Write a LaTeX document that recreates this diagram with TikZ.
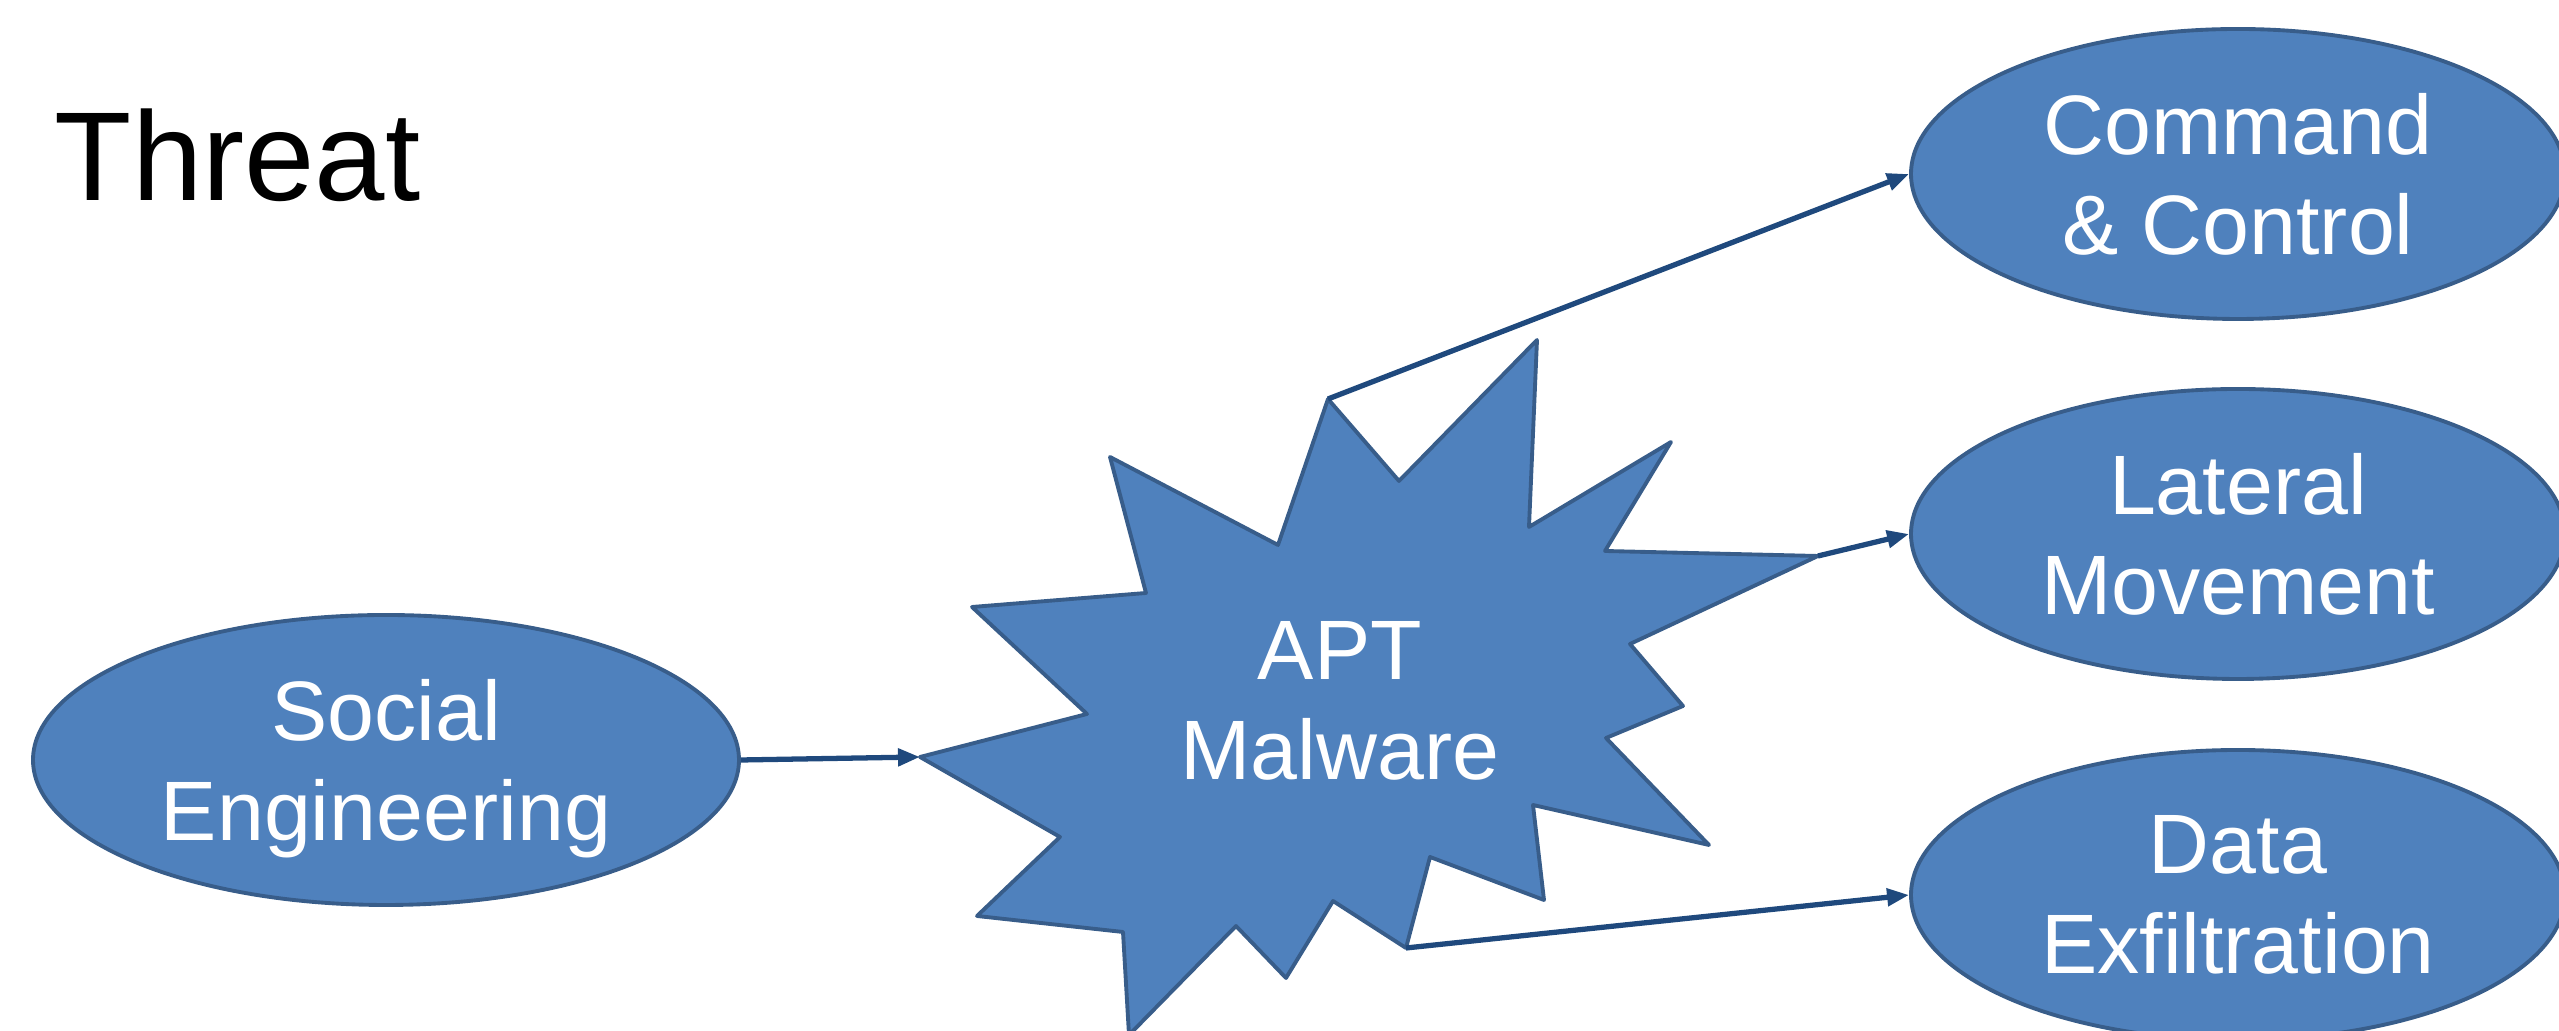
\documentclass[tikz,border=0pt]{standalone}
\usepackage{fontspec}
\setmainfont{Liberation Sans}
\usetikzlibrary{shapes.geometric,arrows.meta}

\definecolor{blobfill}{HTML}{4F81BD}
\definecolor{blobline}{HTML}{385D8A}
\definecolor{linkcol}{HTML}{1F497D}

\begin{document}
\begin{tikzpicture}[
    blob/.style={ellipse, draw=blobline, fill=blobfill, line width=1.1pt,
      inner sep=0pt, minimum height=2.90cm, text=white, align=center,
      font=\fontsize{24}{28.5}\selectfont},
    link/.style={draw=linkcol, line width=1.5pt,
      -{Triangle[length=0.22cm, width=0.17cm]}}
  ]
    \useasboundingbox (0,0) rectangle (25.59,10.31);

    % Title
    \node[anchor=base west, inner sep=0pt, font=\fontsize{36}{43}\selectfont]
      (title) at (0.54,8.30) {Threat};

    % Left and right ellipses
    \node[blob, minimum width=7.06cm] (social) at (3.86,2.71)
      {Social\\\smash{Engineering}};
    \node[blob, minimum width=6.54cm] (cc) at (22.38,8.57)
      {Command\\\& Control};
    \node[blob, minimum width=6.54cm] (lateral) at (22.38,4.97)
      {Lateral\\Movement};
    \node[blob, minimum width=6.54cm] (data) at (22.38,1.36)
      {Data\\Exfiltration};

    % Burst shape
    \draw[blobline, fill=blobfill, line width=1.1pt, line join=round]
      (9.20,2.74) -- (10.87,3.17) -- (9.72,4.24) -- (11.46,4.38)
      -- (11.10,5.74) -- (12.78,4.86) -- (13.28,6.32) -- (13.99,5.50)
      -- (15.37,6.91) -- (15.29,5.04) -- (16.71,5.89) -- (16.05,4.80)
      -- (18.18,4.75) -- (16.30,3.87) -- (16.83,3.25) -- (16.06,2.93)
      -- (17.09,1.86) -- (15.33,2.26) -- (15.44,1.31) -- (14.30,1.74)
      -- (14.06,0.83) -- (13.33,1.30) -- (12.86,0.53) -- (12.36,1.05)
      -- (11.29,-0.04) -- (11.23,0.99) -- (9.77,1.15) -- (10.60,1.94)
      -- cycle;
    \coordinate (tipW) at (9.20,2.74);
    \coordinate (tipN) at (13.28,6.32);
    \coordinate (tipE) at (18.18,4.75);
    \coordinate (tipS) at (14.06,0.83);

    \node[text=white, align=center, inner sep=0pt,
      font=\fontsize{24}{28.5}\selectfont]
      (apt) at (13.40,3.30) {APT\\Malware};

    % Arrows
    \draw[link] (social.east) -- (tipW);
    \draw[link] (tipN) -- (cc.west);
    \draw[link] (tipE) -- (lateral.west);
    \draw[link] (tipS) -- (data.west);
  \end{tikzpicture}
\end{document}
